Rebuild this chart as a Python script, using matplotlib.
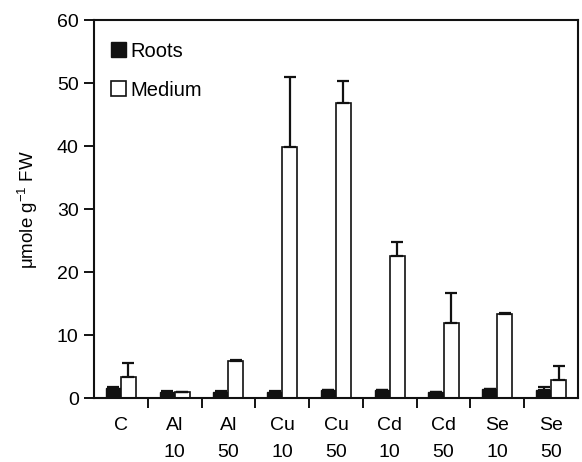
import matplotlib
matplotlib.use("Agg")
import matplotlib.pyplot as plt
import numpy as np

plt.rcParams['font.family'] = ['Liberation Sans', 'DejaVu Sans']

groups = ["C", "Al\n10", "Al\n50", "Cu\n10", "Cu\n50", "Cd\n10", "Cd\n50", "Se\n10", "Se\n50"]
roots = [1.6, 1.0, 1.0, 1.0, 1.2, 1.2, 0.9, 1.4, 1.3]
roots_err = [0.2, 0.1, 0.1, 0.1, 0.1, 0.1, 0.1, 0.1, 0.4]
medium = [3.3, 0.9, 5.8, 39.9, 46.9, 22.6, 11.9, 13.4, 2.9]
medium_err = [2.3, 0.1, 0.2, 11.1, 3.5, 2.2, 4.7, 0.1, 2.2]

fig = plt.figure(figsize=(5.82, 4.62), dpi=100)
ax = fig.add_axes([0.1615, 0.1385, 0.8315, 0.818])

x = np.arange(len(groups))
w = 0.28
ekw = dict(elinewidth=1.6, capthick=1.6, ecolor='#111111')
ax.bar(x - w / 2, roots, w, color='#111111', edgecolor='#111111', linewidth=1.0,
       yerr=[np.zeros(len(roots)), roots_err], capsize=4.5, error_kw=ekw, label='Roots')
ax.bar(x + w / 2, medium, w, color='white', edgecolor='#111111', linewidth=1.2,
       yerr=[np.zeros(len(medium)), medium_err], capsize=4.5, error_kw=ekw, label='Medium')

ax.set_xlim(-0.5, 8.5)
ax.set_ylim(0, 60)
ax.set_yticks(range(0, 61, 10))
ax.set_xticks(x)
ax.set_xticklabels(groups, fontsize=14, linespacing=1.75, va='top')
ax.tick_params(axis='x', length=0, pad=14)
ax.set_xticks(np.arange(0.5, 8.5, 1), minor=True)
ax.tick_params(axis='x', which='minor', length=7, width=1.3, direction='out')
ax.tick_params(axis='y', length=7, width=1.3, direction='out', labelsize=14, pad=4)

for s in ax.spines.values():
    s.set_linewidth(1.5)
    s.set_color('#111111')

ax.set_ylabel(r'$\mathregular{\mu}$mole g$^{\mathregular{-1}}$ FW', fontsize=13.5, labelpad=12)

ax.legend(loc='upper left', frameon=False, fontsize=14.5, handlelength=0.75, handleheight=0.75,
          handletextpad=0.25, labelspacing=1.0, borderaxespad=0.3, bbox_to_anchor=(0.005, 0.98))

fig.savefig("out.png", dpi=100)
